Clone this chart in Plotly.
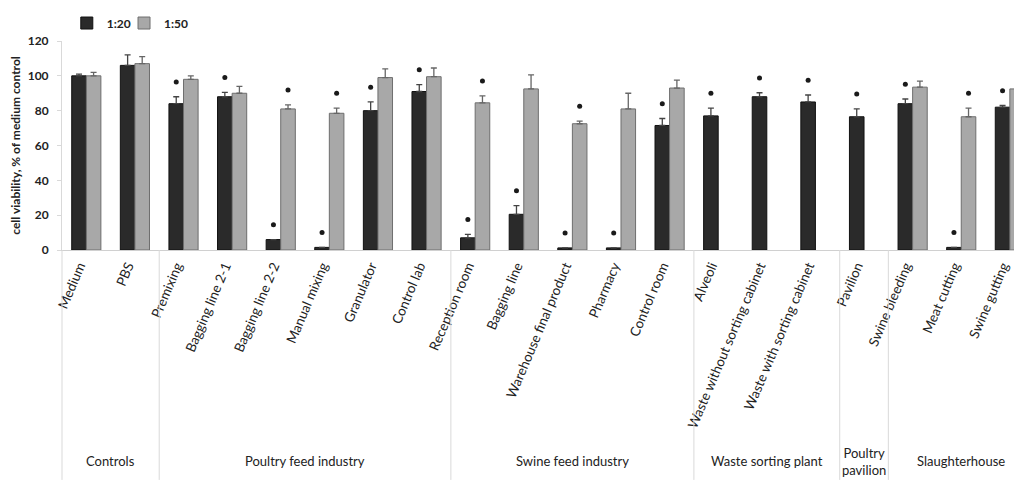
import plotly.graph_objects as go

categories = ["Medium", "PBS", "Premixing", "Bagging line 2-1", "Bagging line 2-2",
              "Manual mixing", "Granulator", "Control lab", "Reception room", "Bagging line",
              "Warehouse final product", "Pharmacy", "Control room", "Alveoli",
              "Waste without sorting cabinet", "Waste with sorting cabinet", "Pavilion",
              "Swine bleeding", "Meat cutting", "Swine gutting"]

v_120 = [100, 106, 84, 88, 6, 1.5, 80, 91, 7, 20.5, 1.2, 1.2, 71.5, 77, 88, 85, 76.5, 84, 1.5, 82]
e_120 = [1, 6, 4, 2.5, 0, 0, 5, 4, 2, 5, 0, 0, 4, 4.5, 2.3, 4, 4.5, 2.7, 0, 1]
v_150 = [100, 107, 98, 90, 81, 78.5, 99, 99.5, 84.5, 92.5, 72.5, 81, 93, None, None, None, None, 93.5, 76.5, 92.5]
e_150 = [2, 4, 2, 4, 2.3, 3, 5, 5, 4, 8, 1.5, 9, 4.5, 0, 0, 0, 0, 3.5, 5, 3.5]
sig_120 = [0, 0, 1, 1, 1, 1, 1, 1, 1, 1, 1, 1, 1, 1, 1, 1, 1, 1, 1, 1]
sig_150 = [0, 0, 0, 0, 1, 1, 0, 0, 1, 0, 1, 0, 0, 0, 0, 0, 0, 0, 1, 1]

groups = ["Controls", "Poultry feed industry", "Swine feed industry",
          "Waste sorting plant", "Poultry<br>pavilion", "Slaughterhouse"]
group_start = [0, 2, 8, 13, 16, 17]
group_end = [1, 7, 12, 15, 16, 19]

y_ticks = [0, 20, 40, 60, 80, 100, 120]

FONT = "Lato"
xidx = list(range(len(categories)))
X0, X1 = -0.5, 19.25
OFF = 0.15
STAR_GAP = 8.5

fig = go.Figure()
fig.add_trace(go.Bar(
    x=xidx, y=v_120, name="1:20", legend="legend",
    marker=dict(color="#2a2a2a", line=dict(color="#111111", width=1)),
    error_y=dict(type="data", array=e_120, arrayminus=[0] * len(e_120), symmetric=False,
                 color="#444444", thickness=1.3, width=3),
))
fig.add_trace(go.Bar(
    x=xidx, y=v_150, name="1:50", legend="legend2",
    marker=dict(color="#a8a8a8", line=dict(color="#6e6e6e", width=1)),
    error_y=dict(type="data", array=e_150, arrayminus=[0] * len(e_150), symmetric=False,
                 color="#666666", thickness=1.3, width=3),
))

sx, sy = [], []
for i in xidx:
    if sig_120[i]:
        sx.append(i - OFF)
        sy.append(v_120[i] + e_120[i] + STAR_GAP)
    if sig_150[i]:
        sx.append(i + OFF)
        sy.append(v_150[i] + e_150[i] + STAR_GAP)
fig.add_trace(go.Scatter(
    x=sx, y=sy, mode="markers", showlegend=False, hoverinfo="skip",
    marker=dict(symbol="circle", size=5, color="#1a1a1a"),
    cliponaxis=False,
))

shapes = []
span = X1 - X0
bounds = [-0.5] + [e + 0.5 for e in group_end[:-1]]
for b in bounds:
    xp = (b - X0) / span
    shapes.append(dict(type="line", xref="paper", yref="paper", x0=xp, x1=xp,
                       y0=0, y1=-1.10, line=dict(color="#d9d9d9", width=1)))

annotations = []
for g, s, e in zip(groups, group_start, group_end):
    annotations.append(dict(x=(s + e) / 2, y=-1.01, xref="x", yref="paper",
                            text=g, showarrow=False, xanchor="center", yanchor="middle",
                            font=dict(family=FONT, size=13, color="#222222")))

legend_font = dict(family=FONT, size=12, color="#222222", weight="bold")
fig.update_layout(
    width=1014, height=476,
    margin=dict(l=54, r=0, t=33, b=234, autoexpand=False),
    paper_bgcolor="white", plot_bgcolor="white",
    barmode="group", bargap=0.4, bargroupgap=0,
    font=dict(family=FONT, color="#222222"),
    legend=dict(orientation="h", x=0.005, y=1.086, xanchor="left", yanchor="middle",
                font=legend_font, itemwidth=30, bgcolor="rgba(0,0,0,0)"),
    legend2=dict(orientation="h", x=0.0646, y=1.086, xanchor="left", yanchor="middle",
                 font=legend_font, itemwidth=30, bgcolor="rgba(0,0,0,0)"),
    shapes=shapes, annotations=annotations,
    xaxis=dict(range=[X0, X1], tickmode="array", tickvals=xidx, ticktext=categories,
               tickangle=-67, showgrid=False, zeroline=False, showline=True,
               linecolor="#d0d0d0", linewidth=1, ticks="", automargin=False,
               ticklabelshift=-7, ticklabelstandoff=2,
               tickfont=dict(family=FONT, size=13.5, color="#222222")),
    yaxis=dict(range=[0, 120], tickmode="array", tickvals=y_ticks, showgrid=False,
               zeroline=False, showline=True, linecolor="#d9d9d9", linewidth=1,
               ticks="outside", ticklen=4, tickcolor="#d9d9d9", automargin=False,
               ticklabelstandoff=6,
               tickfont=dict(family=FONT, size=12, color="#222222", weight="bold"),
               title=dict(text="cell viability, % of medium control", standoff=10,
                          font=dict(family=FONT, size=12, color="#222222", weight="bold"))),
)

fig.write_html("out.html")
